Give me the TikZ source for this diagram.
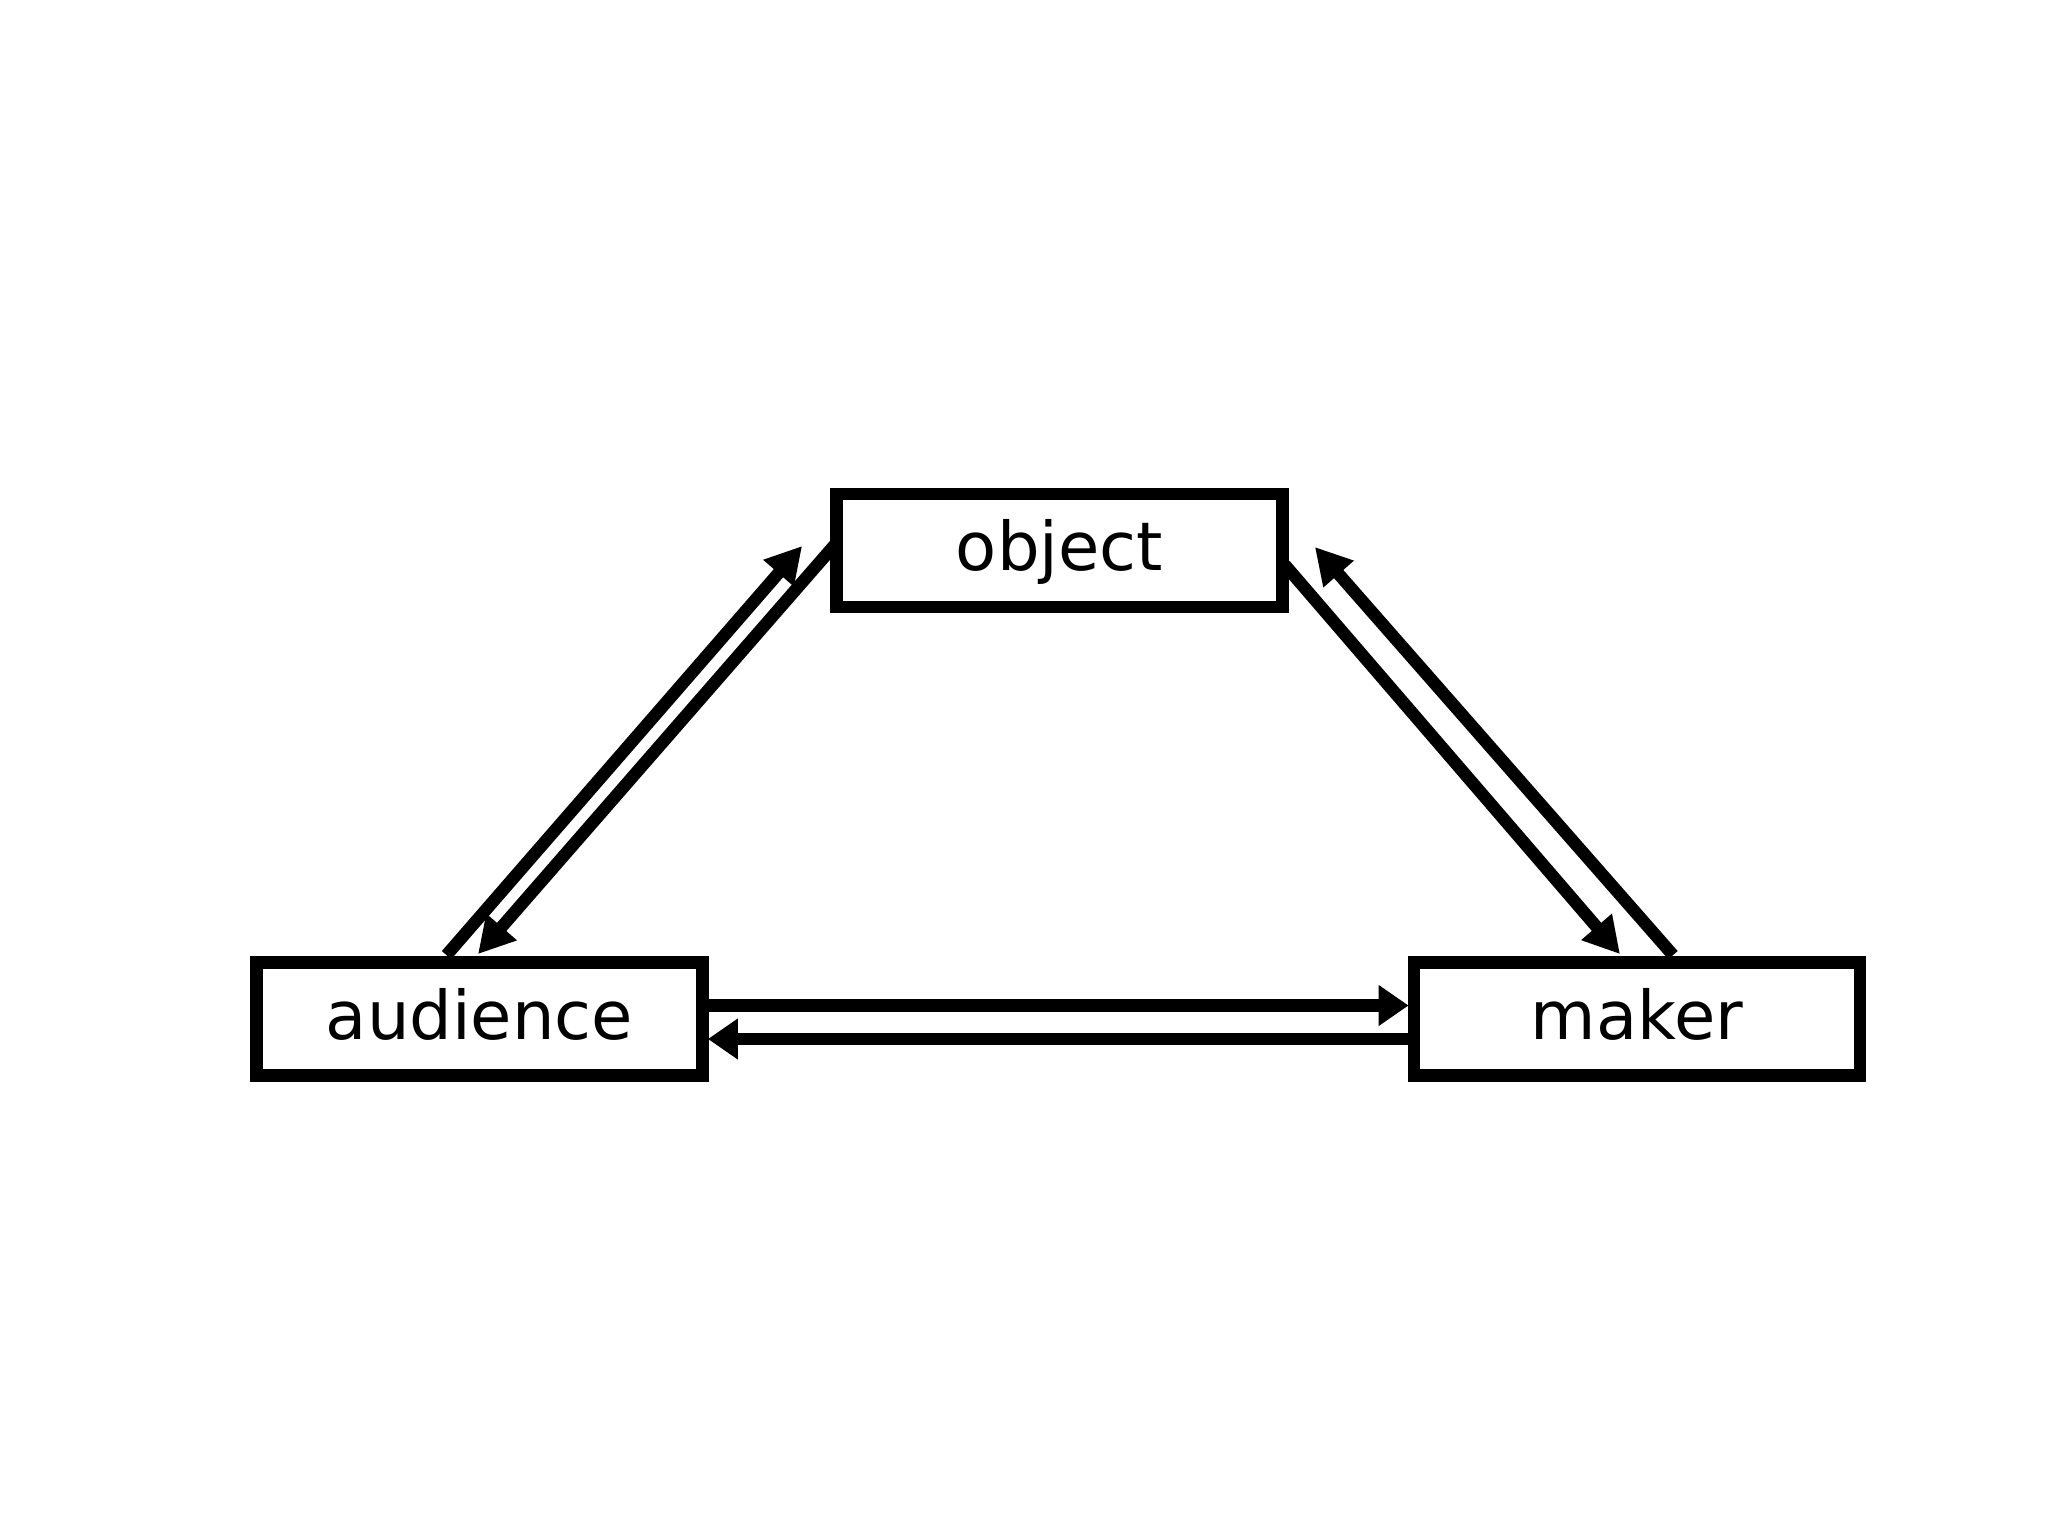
\documentclass[tikz,border=0pt]{standalone}
\usepackage{fontspec}
\setmainfont{DejaVu Sans}
\usetikzlibrary{arrows.meta,calc}
\tikzset{
  box/.style={draw=black, line width=6.4pt, fill=white, minimum width=223pt, minimum height=56.5pt,
    inner sep=0pt, font=\fontsize{33.6pt}{40pt}\selectfont, text height=20pt, text depth=0pt},
  arr/.style={draw=black, line width=6.2pt, -{Triangle[length=18pt,width=19pt]}},
  harr/.style={arr, -{Triangle[length=15pt,width=19.5pt]}}
}
\begin{document}
\begin{tikzpicture}[x=0.5pt,y=-0.5pt]
\useasboundingbox[fill=white] (0,0) rectangle (2048,1536);
\node[box] (obj) at (1059.5,550.5) {object};
\node[box] (aud) at (479.5,1019) {audience};
\node[box] (mak) at (1637,1019) {maker};
% audience <-> object
\draw[arr] ($(aud.north)+(-33,-1)$) -- ($(obj.west)+(-28,-4.5)$);
\draw[arr] ($(obj.west)+(5,-6)$) -- ($(aud.north)+(-1.5,-2)$);
% object <-> maker
\draw[arr] ($(obj.east)+(-4,14.5)$) -- ($(mak.north)+(-17,-2)$);
\draw[arr] ($(mak.north)+(36,-1)$) -- ($(obj.east)+(26,-3.5)$);
% audience <-> maker
\draw[harr] ($(aud.east)+(0,-13.5)$) -- ($(mak.west)+(1,-13.5)$);
\draw[harr] ($(mak.west)+(0,20)$) -- ($(aud.east)+(-1,20)$);
\end{tikzpicture}
\end{document}
